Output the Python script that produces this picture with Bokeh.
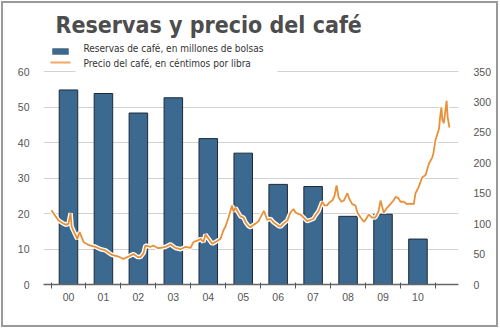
from bokeh.plotting import figure
from bokeh.models import (Range1d, LinearAxis, FixedTicker, Label, BoxAnnotation,
                          ColumnDataSource, InlineStyleSheet)
from bokeh.embed import file_html
from bokeh.resources import INLINE

# ---- data ----
years = ["00", "01", "02", "03", "04", "05", "06", "07", "08", "09", "10"]
year_start = [2000, 2001, 2002, 2003, 2004, 2005, 2006, 2007, 2008, 2009, 2010]
stocks = [54.8, 53.8, 48.3, 52.6, 41.1, 37.0, 28.2, 27.6, 19.2, 19.8, 12.8]

price_t = [2000.01, 2000.13, 2000.22, 2000.36, 2000.44, 2000.50, 2000.56, 2000.59, 2000.67,
           2000.75, 2000.82, 2000.93, 2001.04, 2001.13, 2001.27, 2001.42, 2001.56, 2001.70,
           2001.79, 2001.93, 2002.07, 2002.22, 2002.36, 2002.48, 2002.56, 2002.65, 2002.70,
           2002.85, 2002.93, 2003.05, 2003.13, 2003.28, 2003.42, 2003.56, 2003.71, 2003.85,
           2003.99, 2004.08, 2004.19, 2004.28, 2004.36, 2004.42, 2004.51, 2004.61, 2004.71,
           2004.85, 2004.94, 2004.99, 2005.08, 2005.18, 2005.22, 2005.28, 2005.33, 2005.42,
           2005.51, 2005.57, 2005.65, 2005.71, 2005.79, 2005.85, 2005.94, 2005.99, 2006.09,
           2006.19, 2006.28, 2006.37, 2006.42, 2006.51, 2006.57, 2006.65, 2006.76, 2006.85,
           2006.94, 2007.00, 2007.08, 2007.14, 2007.23, 2007.33, 2007.42, 2007.51, 2007.57,
           2007.65, 2007.76, 2007.83, 2007.90, 2007.97, 2008.05, 2008.11, 2008.17, 2008.23,
           2008.31, 2008.38, 2008.48, 2008.54, 2008.62, 2008.71, 2008.77, 2008.86, 2008.95,
           2009.00, 2009.09, 2009.19, 2009.28, 2009.37, 2009.43, 2009.49, 2009.52, 2009.60,
           2009.71, 2009.80, 2009.86, 2009.94, 2010.00, 2010.09, 2010.19, 2010.29, 2010.38,
           2010.43, 2010.52, 2010.62, 2010.72, 2010.81, 2010.91, 2010.94, 2011.00, 2011.10,
           2011.14, 2011.17, 2011.20, 2011.24, 2011.32, 2011.35, 2011.40]
price_v = [122, 112, 105, 100, 98, 100, 117, 95, 85,
           75, 86, 70, 66, 64, 62, 58, 56, 50,
           48, 46, 42, 46, 50, 45, 45, 52, 64,
           62, 64, 60, 60, 62, 66, 60, 58, 62,
           60, 70, 72, 75, 70, 82, 75, 67, 70,
           75, 90, 95, 110, 130, 120, 126, 121, 112,
           110, 102, 96, 94, 98, 100, 104, 110, 121,
           106, 108, 102, 100, 96, 95, 100, 105, 118,
           124, 118, 116, 115, 110, 104, 106, 108, 114,
           120, 136, 130, 130, 135, 138, 145, 163, 143,
           136, 138, 150, 140, 132, 130, 118, 110, 103,
           106, 115, 110, 110, 120, 138, 125, 118, 125,
           132, 138, 144, 142, 136, 136, 132, 133, 132,
           150, 160, 176, 180, 198, 209, 215, 237, 255,
           278, 291, 270, 265, 302, 275, 258]

left_ticks = [0, 10, 20, 30, 40, 50, 60]
right_ticks = [0, 50, 100, 150, 200, 250, 300, 350]

bar_color = "#3b6990"
line_color = "#e8913a"
font_narrow = "DejaVu Sans Condensed, Liberation Sans Narrow, sans-serif"
tick_font = "Liberation Sans, Arial, sans-serif"

# frame spans the full height above the x axis (284 px); the 60 / 350 tops sit 71 px below the top
FRAME_H = 284.0
TOP_GAP = 71.0
scale = FRAME_H / (FRAME_H - TOP_GAP)

border_css = InlineStyleSheet(css="""
:host { position: relative; }
:host::after { content: ""; position: absolute; left: 1px; top: 1px; right: 2px; bottom: 2px;
  border: 2px solid #9a9a9a; pointer-events: none; z-index: 1000; }
""")

p = figure(width=500, height=329, output_backend="svg", toolbar_location=None,
           x_range=Range1d(1999.785, 2011.66), y_range=Range1d(0, 60 * scale),
           min_border_left=43, min_border_right=42, min_border_top=0, min_border_bottom=45,
           y_axis_location=None, x_axis_location=None)
p.outline_line_color = None
p.background_fill_color = "white"
p.border_fill_color = "white"
p.extra_y_ranges = {"price": Range1d(0, 350 * scale)}
p.stylesheets = [border_css]

# grid
p.xgrid.visible = False
p.ygrid.grid_line_color = "#d2d2d2"
p.ygrid.grid_line_width = 1
p.ygrid.ticker = FixedTicker(ticks=left_ticks)

# bars
mid = [y + 0.5 for y in year_start]
src = ColumnDataSource(dict(x=mid, top=stocks))
p.vbar(x="x", top="top", width=0.53, source=src, fill_color=bar_color,
       line_color="#1c2a38", line_width=1)

# price line with white halo
psrc = ColumnDataSource(dict(t=price_t, v=price_v))
p.line("t", "v", source=psrc, y_range_name="price", line_color="white", line_width=4.5)
p.line("t", "v", source=psrc, y_range_name="price", line_color=line_color, line_width=1.8)

# axes
xa = LinearAxis(ticker=FixedTicker(ticks=mid, minor_ticks=year_start + [2011]))
xa.major_label_overrides = {m: y for m, y in zip(mid, years)}
xa.major_tick_out = 0
xa.major_tick_in = 0
xa.minor_tick_out = 4
xa.minor_tick_in = 2
xa.minor_tick_line_color = "#555555"
xa.axis_line_color = "#666666"
xa.axis_line_width = 1.3
xa.major_label_standoff = 4
xa.major_label_text_font = tick_font
xa.major_label_text_font_size = "10.5px"
xa.major_label_text_color = "#555555"
p.add_layout(xa, "below")

la = LinearAxis(ticker=FixedTicker(ticks=left_ticks))
la.axis_line_color = None
la.major_tick_line_color = None
la.minor_tick_line_color = None
la.major_label_standoff = 8
la.major_label_text_font = tick_font
la.major_label_text_font_size = "10.5px"
la.major_label_text_color = "#555555"
p.add_layout(la, "left")

ra = LinearAxis(y_range_name="price", ticker=FixedTicker(ticks=right_ticks))
ra.axis_line_color = None
ra.major_tick_line_color = None
ra.minor_tick_line_color = None
ra.major_label_standoff = 9
ra.major_label_text_font = tick_font
ra.major_label_text_font_size = "10.5px"
ra.major_label_text_color = "#555555"
p.add_layout(ra, "right")

def screen_box(l, r, b, t, **kw):
    return BoxAnnotation(left=l, right=r, bottom=b, top=t,
                         left_units="screen", right_units="screen",
                         bottom_units="screen", top_units="screen", **kw)

# gap in the top gridline behind the legend
p.add_layout(screen_box(32, 234, 208, 219, fill_color="white", fill_alpha=1, line_color=None))

# title
p.add_layout(Label(x=12, y=260, x_units="screen", y_units="screen",
                   text="Reservas y precio del café", text_font=font_narrow,
                   text_font_size="23px", text_font_style="bold", text_color="#4d4d4d",
                   text_baseline="alphabetic"))

# legend
p.add_layout(screen_box(9, 25, 230, 236, fill_color=bar_color, fill_alpha=1, line_color="#1c2a38"))
p.add_layout(screen_box(7, 27, 221, 223, fill_color="#f0a862", fill_alpha=1, line_color=None))
p.add_layout(Label(x=40, y=236, x_units="screen", y_units="screen",
                   text="Reservas de café, en millones de bolsas", text_font=font_narrow,
                   text_font_size="10px", text_color="#333333", text_baseline="middle"))
p.add_layout(Label(x=40, y=221, x_units="screen", y_units="screen",
                   text="Precio del café, en céntimos por libra", text_font=font_narrow,
                   text_font_size="10px", text_color="#333333", text_baseline="middle"))

open("out.html", "w").write(file_html(p, INLINE))
